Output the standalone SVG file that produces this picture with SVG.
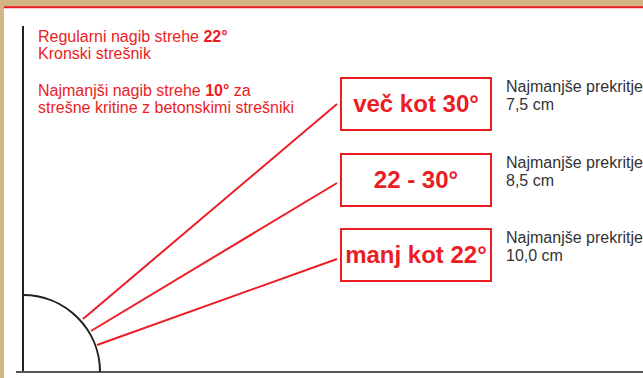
<svg xmlns="http://www.w3.org/2000/svg" width="643" height="378" viewBox="0 0 643 378">
<style>
.red{fill:#ec1c24;font-family:"Liberation Sans",Arial,sans-serif;font-size:16px}
.b{font-weight:bold}
.box{fill:#fff;stroke:#ec1c24;stroke-width:2}
.lbl{fill:#ec1c24;font-family:"Liberation Sans",Arial,sans-serif;font-size:24px;font-weight:bold;text-anchor:middle}
.note{fill:#333;font-family:"Liberation Sans",Arial,sans-serif;font-size:16px}
.ray{stroke:#ec1c24;stroke-width:2;fill:none}
</style>
<rect x="0" y="0" width="643" height="378" fill="#d4b384"/>
<rect x="4" y="7" width="639" height="371" fill="#fff"/>
<line x1="4" y1="7.2" x2="643" y2="7.2" stroke="#ec1c24" stroke-width="2"/>
<g id="axes">
<line x1="23" y1="26" x2="23" y2="372" stroke="#222" stroke-width="2"/>
<line x1="16" y1="372" x2="643" y2="372" stroke="#555" stroke-width="2"/>
<path d="M23,295 A77,77 0 0 1 100,372" fill="none" stroke="#222" stroke-width="2"/>
</g>
<g id="intro">
<text class="red" x="38" y="42">Regularni nagib strehe <tspan class="b">22°</tspan></text>
<text class="red" x="38" y="59">Kronski strešnik</text>
<text class="red" x="38" y="96">Najmanjši nagib strehe <tspan class="b">10°</tspan> za</text>
<text class="red" x="38" y="113">strešne kritine z betonskimi strešniki</text>
</g>
<g id="connectors">
<line class="ray" x1="83" y1="319" x2="337" y2="104"/>
<line class="ray" x1="91" y1="331" x2="337" y2="183"/>
<line class="ray" x1="97" y1="345" x2="337" y2="259"/>
</g>
<g id="node-over30">
<rect class="box" x="341" y="78" width="150" height="52"/>
<text class="lbl" x="416" y="112">več kot 30°</text>
<text class="note" x="506" y="92">Najmanjše prekritje</text>
<text class="note" x="506" y="110">7,5 cm</text>
</g>
<g id="node-22-30">
<rect class="box" x="341" y="154" width="150" height="52"/>
<text class="lbl" x="416" y="188">22 - 30°</text>
<text class="note" x="506" y="168">Najmanjše prekritje</text>
<text class="note" x="506" y="186">8,5 cm</text>
</g>
<g id="node-under22">
<rect class="box" x="341" y="229" width="150" height="52"/>
<text class="lbl" x="416" y="263">manj kot 22°</text>
<text class="note" x="506" y="243">Najmanjše prekritje</text>
<text class="note" x="506" y="261">10,0 cm</text>
</g>
</svg>
